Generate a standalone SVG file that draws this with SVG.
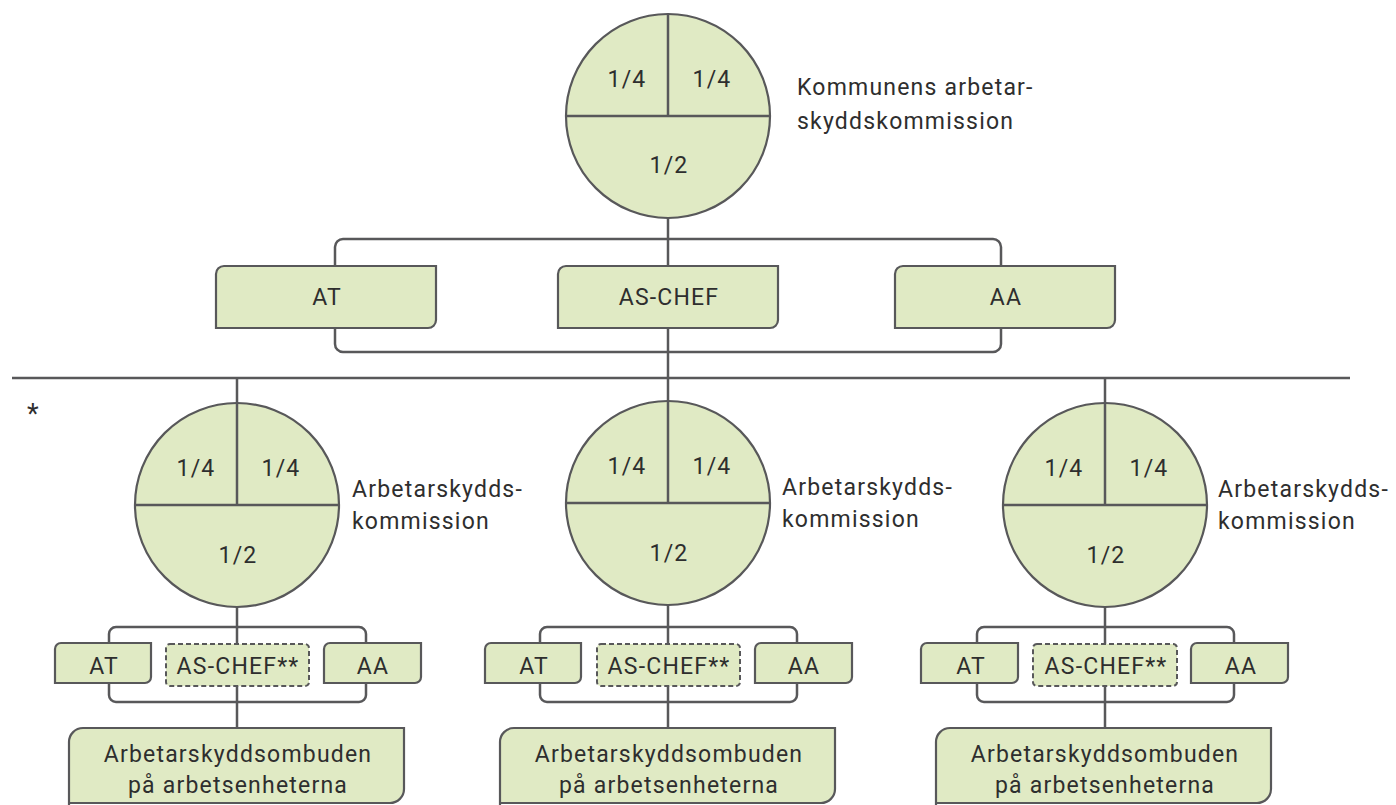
<svg xmlns="http://www.w3.org/2000/svg" width="1396" height="805" viewBox="0 0 1396 805">
<style>
.ln{fill:none;stroke:#58585a;stroke-width:2.5}
.sh{fill:#e0eac4;stroke:#58585a;stroke-width:2.2}
.ds{fill:#e0eac4;stroke:#58585a;stroke-width:2;stroke-dasharray:5 3}
.t{font-family:Roboto,"Liberation Sans",sans-serif;font-size:23px;fill:#2e2e2e;letter-spacing:1.2px}
.c{text-anchor:middle}
</style>
<rect width="1396" height="805" fill="#fff"/>
<g id="connectors">
<line class="ln" x1="668" y1="218" x2="668" y2="401"/>
<rect class="ln" x="335" y="239" width="666" height="113" rx="8"/>
<line class="ln" x1="12" y1="378" x2="1350" y2="378"/>
<line class="ln" x1="237" y1="378" x2="237" y2="728"/>
<line class="ln" x1="1105" y1="378" x2="1105" y2="728"/>
<line class="ln" x1="668" y1="401" x2="668" y2="728"/>
<rect class="ln" x="109" y="627" width="257" height="75" rx="7"/>
<rect class="ln" x="540" y="627" width="257" height="75" rx="7"/>
<rect class="ln" x="977" y="627" width="257" height="75" rx="7"/>
</g>
<g id="top-commission">
<circle class="sh" cx="668" cy="116" r="102"/>
<line class="ln" x1="566" y1="116" x2="770" y2="116"/>
<line class="ln" x1="668" y1="14" x2="668" y2="116"/>
<text class="t c" x="627" y="87">1/4</text>
<text class="t c" x="712" y="87">1/4</text>
<text class="t c" x="669" y="173">1/2</text>
<text class="t" x="797" y="95">Kommunens arbetar-</text>
<text class="t" x="797" y="129">skyddskommission</text>
</g>
<g id="top-at">
<path class="sh" d="M216,328V274A8,8 0 0 1 224,266H436V320A8,8 0 0 1 428,328Z"/>
<text class="t c" x="327" y="305">AT</text>
</g>
<g id="top-aschef">
<path class="sh" d="M558,328V274A8,8 0 0 1 566,266H778V320A8,8 0 0 1 770,328Z"/>
<text class="t c" x="669" y="305">AS-CHEF</text>
</g>
<g id="top-aa">
<path class="sh" d="M895,328V274A8,8 0 0 1 903,266H1115V320A8,8 0 0 1 1107,328Z"/>
<text class="t c" x="1006" y="305">AA</text>
</g>
<text class="t" x="27" y="423" style="font-size:27px">*</text>
<g id="left-commission">
<circle class="sh" cx="237" cy="505" r="102"/>
<line class="ln" x1="135" y1="505" x2="339" y2="505"/>
<line class="ln" x1="237" y1="403" x2="237" y2="505"/>
<text class="t c" x="196" y="476">1/4</text>
<text class="t c" x="281" y="476">1/4</text>
<text class="t c" x="238" y="563">1/2</text>
<text class="t" x="352" y="497">Arbetarskydds-</text>
<text class="t" x="352" y="529">kommission</text>
</g>
<g id="left-at">
<path class="sh" d="M55,683V649A6,6 0 0 1 61,643H151V677A6,6 0 0 1 145,683Z"/>
<text class="t c" x="104" y="674">AT</text>
</g>
<g id="left-aschef">
<rect class="ds" x="166" y="644" width="143" height="42" rx="4"/>
<text class="t c" x="238" y="674">AS-CHEF**</text>
</g>
<g id="left-aa">
<path class="sh" d="M324,683V649A6,6 0 0 1 330,643H421V677A6,6 0 0 1 415,683Z"/>
<text class="t c" x="373" y="674">AA</text>
</g>
<g id="left-ombud">
<path class="sh" d="M69,806V742A14,14 0 0 1 83,728H404V789A14,14 0 0 1 390,803H69"/>
<text class="t c" x="238" y="762">Arbetarskyddsombuden</text>
<text class="t c" x="238" y="793">på arbetsenheterna</text>
</g>
<g id="mid-commission">
<circle class="sh" cx="668" cy="503" r="102"/>
<line class="ln" x1="566" y1="503" x2="770" y2="503"/>
<line class="ln" x1="668" y1="401" x2="668" y2="503"/>
<text class="t c" x="627" y="474">1/4</text>
<text class="t c" x="712" y="474">1/4</text>
<text class="t c" x="669" y="561">1/2</text>
<text class="t" x="782" y="495">Arbetarskydds-</text>
<text class="t" x="782" y="527">kommission</text>
</g>
<g id="mid-at">
<path class="sh" d="M485,683V649A6,6 0 0 1 491,643H581V677A6,6 0 0 1 575,683Z"/>
<text class="t c" x="534" y="674">AT</text>
</g>
<g id="mid-aschef">
<rect class="ds" x="597" y="644" width="143" height="42" rx="4"/>
<text class="t c" x="669" y="674">AS-CHEF**</text>
</g>
<g id="mid-aa">
<path class="sh" d="M755,683V649A6,6 0 0 1 761,643H852V677A6,6 0 0 1 846,683Z"/>
<text class="t c" x="804" y="674">AA</text>
</g>
<g id="mid-ombud">
<path class="sh" d="M500,806V742A14,14 0 0 1 514,728H835V789A14,14 0 0 1 821,803H500"/>
<text class="t c" x="669" y="762">Arbetarskyddsombuden</text>
<text class="t c" x="669" y="793">på arbetsenheterna</text>
</g>
<g id="right-commission">
<circle class="sh" cx="1105" cy="505" r="102"/>
<line class="ln" x1="1003" y1="505" x2="1207" y2="505"/>
<line class="ln" x1="1105" y1="403" x2="1105" y2="505"/>
<text class="t c" x="1064" y="476">1/4</text>
<text class="t c" x="1149" y="476">1/4</text>
<text class="t c" x="1106" y="563">1/2</text>
<text class="t" x="1218" y="497">Arbetarskydds-</text>
<text class="t" x="1218" y="529">kommission</text>
</g>
<g id="right-at">
<path class="sh" d="M921,683V649A6,6 0 0 1 927,643H1018V677A6,6 0 0 1 1012,683Z"/>
<text class="t c" x="971" y="674">AT</text>
</g>
<g id="right-aschef">
<rect class="ds" x="1033" y="644" width="144" height="42" rx="4"/>
<text class="t c" x="1106" y="674">AS-CHEF**</text>
</g>
<g id="right-aa">
<path class="sh" d="M1191,683V649A6,6 0 0 1 1197,643H1288V677A6,6 0 0 1 1282,683Z"/>
<text class="t c" x="1241" y="674">AA</text>
</g>
<g id="right-ombud">
<path class="sh" d="M936,806V742A14,14 0 0 1 950,728H1271V789A14,14 0 0 1 1257,803H936"/>
<text class="t c" x="1105" y="762">Arbetarskyddsombuden</text>
<text class="t c" x="1105" y="793">på arbetsenheterna</text>
</g>
</svg>
